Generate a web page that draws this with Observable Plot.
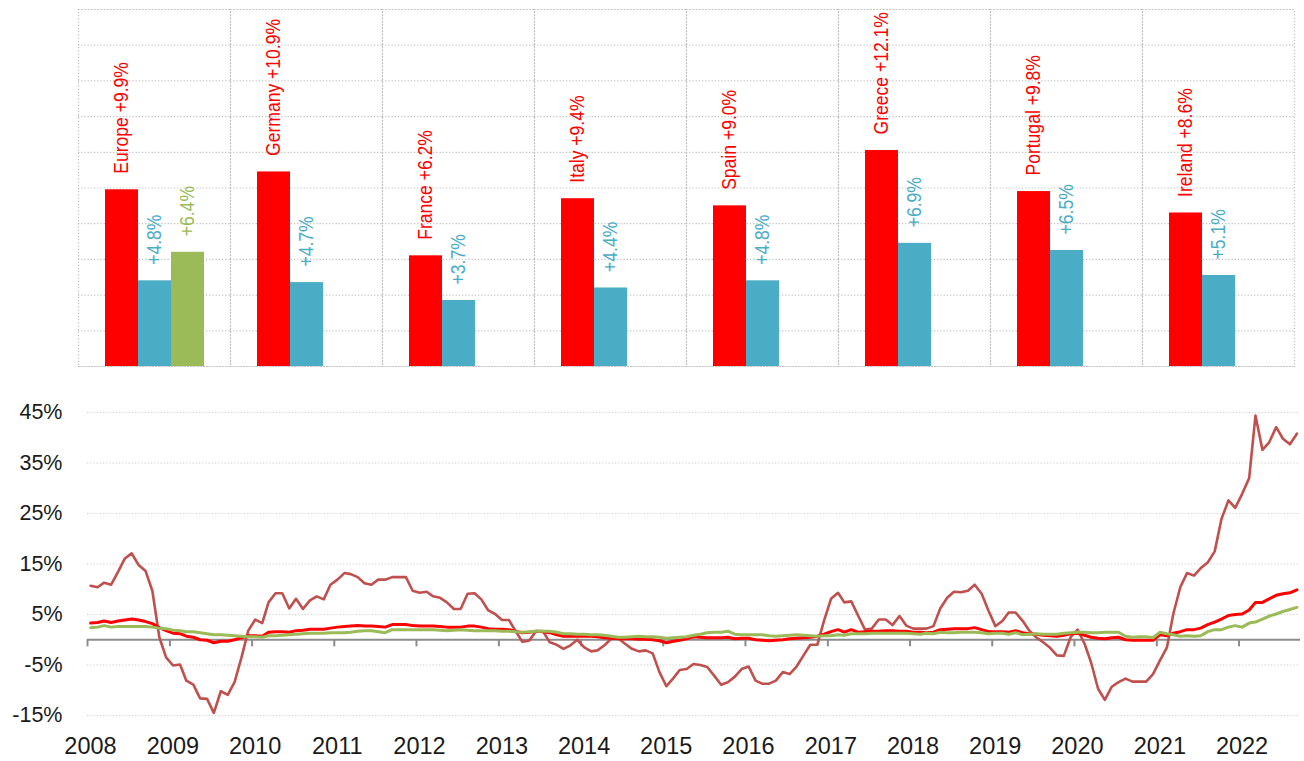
<!DOCTYPE html>
<html><head><meta charset="utf-8">
<script src="https://cdn.jsdelivr.net/npm/d3@7"></script>
<script src="https://cdn.jsdelivr.net/npm/@observablehq/plot@0.6"></script>
<style>
html,body{margin:0;padding:0;background:#fff;}
#chart svg{display:block;}
</style></head><body><div id="chart"></div>
<script>
// ---------- data: top bar chart ----------
const groups = ["Europe","Germany","France","Italy","Spain","Greece","Portugal","Ireland"];
const redBarValues  = [9.9, 10.9, 6.2, 9.4, 9.0, 12.1, 9.8, 8.6];
const blueBarValues = [4.8, 4.7, 3.7, 4.4, 4.8, 6.9, 6.5, 5.1];
const greenBarValues = [6.4, null, null, null, null, null, null, null];
const barSeries = ["s1", "s2", "s3"];
const barGridTicks = [0, 2, 4, 6, 8, 10, 12, 14, 16, 18, 20];

// ---------- data: bottom line chart (monthly, Jan 2008 – Sep 2022) ----------
const startYear = 2008;
const seriesBrown = [10.7,10.4,11.3,10.9,13.4,16.1,17.1,14.8,13.6,9.7,
 0.5,-3.5,-5.1,-4.9,-8.1,-8.9,-11.6,-11.7,-14.5,-10.2,
 -10.9,-8.4,-3.5,1.8,4.0,3.3,7.4,9.2,9.2,6.2,
 8.1,6.1,7.8,8.6,8.0,10.9,11.9,13.2,13.0,12.4,
 11.2,10.9,11.9,11.9,12.4,12.4,12.4,9.7,9.3,9.5,
 8.6,8.3,7.4,6.1,6.1,9.1,9.2,8.0,5.8,5.1,
 3.9,3.9,1.8,-0.4,-0.2,1.7,1.7,-0.5,-1.0,-1.8,
 -1.1,0.0,-1.5,-2.3,-2.1,-1.1,0.2,0.3,-0.8,-1.8,
 -2.3,-2.1,-2.7,-6.4,-9.2,-7.6,-6.0,-5.8,-4.8,-5.0,
 -5.4,-7.1,-8.9,-8.4,-7.3,-5.8,-5.3,-8.1,-8.7,-8.7,
 -8.1,-6.4,-6.8,-5.3,-3.1,-1.0,-1.0,3.8,8.1,9.3,
 7.4,7.6,4.8,2.0,2.2,4.0,4.0,2.9,4.7,2.8,
 2.2,2.2,2.2,2.7,6.2,8.3,9.5,9.4,9.7,10.9,
 9.1,5.8,2.7,3.7,5.4,5.4,3.8,1.8,0.5,-0.5,
 -1.6,-3.1,-3.2,0.5,2.0,-0.8,-4.5,-9.7,-11.9,-9.3,
 -8.4,-7.7,-8.3,-8.3,-8.3,-6.8,-4.1,-1.5,5.1,10.4,
 13.2,12.7,14.2,15.3,17.5,23.9,27.6,26.1,28.9,32.0,
 44.4,37.6,39.1,42.1,39.8,38.7,40.8];
const seriesRed = [3.3,3.4,3.7,3.4,3.7,3.9,4.1,3.9,3.6,3.2,
 2.4,1.8,1.3,1.2,0.7,0.5,0.0,-0.1,-0.6,-0.3,
 -0.3,0.0,0.4,0.8,0.8,0.7,1.5,1.6,1.6,1.5,
 1.8,1.9,2.1,2.1,2.1,2.3,2.5,2.6,2.7,2.8,
 2.7,2.7,2.6,2.5,3.0,3.0,3.0,2.8,2.7,2.7,
 2.7,2.6,2.5,2.5,2.5,2.7,2.7,2.5,2.2,2.1,
 2.1,2.0,1.7,1.4,1.5,1.7,1.6,1.4,1.0,0.7,
 0.7,0.7,0.7,0.7,0.6,0.4,0.3,0.2,0.2,0.2,
 0.1,0.1,0.0,-0.2,-0.6,-0.3,-0.1,0.2,0.6,0.5,
 0.4,0.4,0.4,0.5,0.2,0.3,0.3,0.0,-0.1,-0.2,
 -0.1,0.0,0.2,0.3,0.4,0.5,0.7,1.1,1.6,2.0,
 1.5,2.0,1.5,1.6,1.7,1.7,1.8,1.8,1.7,1.7,
 1.5,1.5,1.4,1.5,2.0,2.1,2.2,2.2,2.2,2.4,
 2.0,1.6,1.6,1.6,1.5,1.8,1.4,1.2,1.1,0.9,
 0.8,0.7,0.9,1.2,1.3,0.9,0.5,0.3,0.2,0.4,
 0.5,0.0,-0.1,-0.1,-0.1,-0.1,1.0,0.8,1.3,1.6,
 2.0,2.0,2.3,3.0,3.5,4.1,4.8,5.0,5.1,5.9,
 7.4,7.4,8.1,8.8,9.1,9.3,9.9];
const seriesGreen = [2.4,2.5,2.8,2.5,2.6,2.6,2.6,2.6,2.6,2.5,
 2.3,2.2,1.9,1.8,1.6,1.6,1.4,1.2,1.0,1.0,
 0.9,0.8,0.7,0.6,0.6,0.5,0.8,0.8,0.9,1.0,
 1.1,1.2,1.3,1.3,1.3,1.4,1.4,1.4,1.5,1.7,
 1.8,1.8,1.6,1.4,2.0,2.0,2.0,2.0,2.0,2.0,
 2.0,1.9,1.8,1.9,2.0,1.9,1.8,1.8,1.8,1.8,
 1.7,1.7,1.6,1.5,1.6,1.7,1.7,1.7,1.5,1.2,
 1.2,1.1,1.1,1.0,1.0,0.9,0.7,0.5,0.5,0.6,
 0.7,0.6,0.6,0.5,0.3,0.4,0.5,0.6,0.9,1.1,
 1.4,1.5,1.5,1.7,1.1,1.0,1.0,1.0,1.0,0.8,
 0.7,0.8,0.9,1.0,0.9,0.8,0.7,0.8,0.8,1.0,
 0.9,1.2,1.2,1.2,1.3,1.3,1.3,1.3,1.3,1.3,
 1.2,1.1,1.3,1.2,1.5,1.4,1.4,1.5,1.5,1.5,
 1.4,1.2,1.3,1.3,1.1,1.4,1.0,1.1,1.2,1.1,
 1.1,1.1,1.3,1.4,1.5,1.5,1.4,1.4,1.5,1.5,
 1.5,0.7,0.5,0.6,0.6,0.4,1.5,1.2,1.0,0.7,
 0.8,0.7,0.8,1.6,2.0,2.0,2.5,2.8,2.5,3.3,
 3.5,4.1,4.7,5.1,5.6,6.0,6.4];
const yTicks = [-15, -5, 5, 15, 25, 35, 45];
const yearTicks = [2008,2009,2010,2011,2012,2013,2014,2015,2016,2017,2018,2019,2020,2021,2022];

// ---------- styles ----------
const COLORS = {red: "#FF0000", blue: "#4BACC6", green: "#9BBB59", brown: "#C0504D"};
const labelFont = '"Liberation Sans", Arial, sans-serif';
const labelSize = 19.5;
const labelSqueeze = 0.9; // condensed look along the text direction

// ---------- build bar rows ----------
const barRows = [];
groups.forEach((g, i) => {
  const vals = [redBarValues[i], blueBarValues[i], greenBarValues[i]];
  vals.forEach((v, j) => {
    if (v == null) return;
    const s = barSeries[j];
    barRows.push({group: g, series: s, value: v,
      label: (j === 0 ? g + " " : "") + "+" + v.toFixed(1) + "%"});
  });
});

const gridStyle = {stroke: "#c0c0c0", strokeOpacity: 1, strokeWidth: 1.2, strokeDasharray: "1.2,2"};

const topChart = Plot.plot({
  width: 1304, height: 370,
  marginLeft: 78, marginRight: 10, marginTop: 9, marginBottom: 4,
  style: {fontFamily: labelFont, background: "#fff"},
  fx: {domain: groups, padding: 0, axis: null},
  x: {domain: barSeries, paddingInner: 0, paddingOuter: 0.77, axis: null},
  y: {domain: [0, 20], axis: null},
  color: {domain: barSeries, range: [COLORS.red, COLORS.blue, COLORS.green]},
  marks: [
    Plot.gridY(barGridTicks, gridStyle),
    Plot.frame(gridStyle),
    Plot.barY(barRows, {fx: "group", x: "series", y: "value", fill: "series"}),
    Plot.text(barRows, {fx: "group", x: "series", y: "value", text: "label", fill: "series",
      rotate: -90, textAnchor: "start", dy: -16, fontSize: labelSize, fontFamily: labelFont})
  ]
});
// narrow the rotated labels along their reading direction
topChart.querySelectorAll("text").forEach(t => {
  const tr = t.getAttribute("transform");
  if (tr && tr.includes("rotate")) t.setAttribute("transform", tr + ` scale(${labelSqueeze},1)`);
});

// ---------- bottom line chart ----------
const toRows = arr => arr.map((v, m) => ({date: new Date(Date.UTC(startYear, m, 15)), value: v}));
const brownRows = toRows(seriesBrown), redRows = toRows(seriesRed), greenRows = toRows(seriesGreen);
const yearDates = yearTicks.map(y => new Date(Date.UTC(y, 0, 1)));

const bottomChart = Plot.plot({
  width: 1304, height: 391,
  marginLeft: 87, marginRight: 4, marginTop: 42, marginBottom: 46,
  style: {fontFamily: '"Liberation Sans", Arial, sans-serif', color: "#1a1a1a", background: "#fff"},
  x: {type: "utc", domain: [new Date(Date.UTC(2008, 0, 1)), new Date(Date.UTC(2022, 9, 1))], label: null},
  y: {domain: [-15, 45], label: null},
  marks: [
    Plot.gridY(yTicks, {stroke: "#cccccc", strokeOpacity: 1, strokeWidth: 1.2, strokeDasharray: "1.2,2"}),
    Plot.axisY(yTicks, {tickSize: 0, tickPadding: 25, tickFormat: d => d + "%", fontSize: 21.5}),
    Plot.ruleY([0], {stroke: "#8c8c8c", strokeWidth: 2}),
    Plot.ruleX(yearDates, {x: d => d, y1: 0, y2: -1.4, stroke: "#8c8c8c", strokeWidth: 2}),
    Plot.axisX(yearDates, {tickSize: 0, tickPadding: 22, dx: 3, tickFormat: d => String(d.getUTCFullYear()), fontSize: 23.5}),
    Plot.line(brownRows, {x: "date", y: "value", stroke: COLORS.brown, strokeWidth: 2.6}),
    Plot.line(redRows, {x: "date", y: "value", stroke: COLORS.red, strokeWidth: 3}),
    Plot.line(greenRows, {x: "date", y: "value", stroke: COLORS.green, strokeWidth: 3})
  ]
});

const root = document.getElementById("chart");
root.appendChild(topChart);
root.appendChild(bottomChart);
</script></body></html>
